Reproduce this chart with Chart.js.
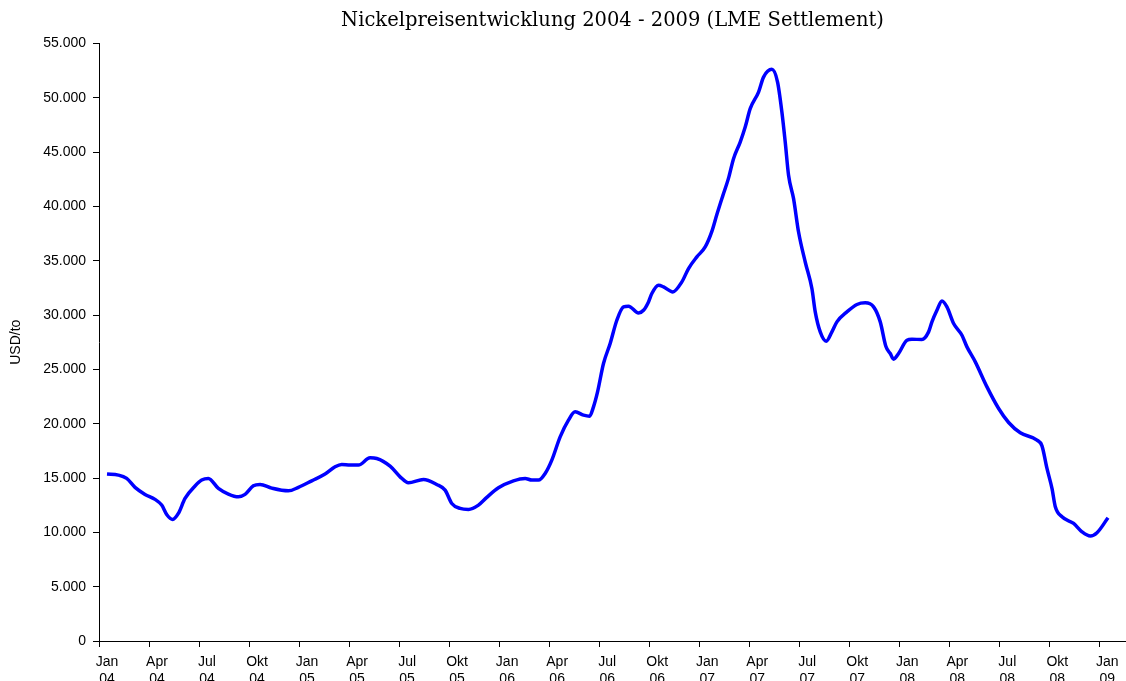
<!DOCTYPE html>
<html>
<head>
<meta charset="utf-8">
<script src="https://cdn.jsdelivr.net/npm/chart.js@4"></script>
<style>
    html, body { margin: 0; padding: 0; overflow: hidden; background: #fff; }
    #wrap { width: 1126px; height: 700px; }
</style>
</head>
<body>
<div id="wrap"><canvas id="nickel-chart"></canvas></div>
<script>
// Months since start of Jan 2004 (fractional) and LME settlement price in USD/t
const months = [0.48, 1.16, 1.66, 2.16, 2.76, 3.36, 3.76, 4.06, 4.42, 4.76,
    5.16, 5.76, 6.16, 6.56, 7.16, 7.76, 8.36, 8.76, 9.26, 9.66,
    10.36, 11.36, 11.96, 12.76, 13.56, 14.16, 14.56, 15.06, 15.56, 16.26,
    16.66, 17.46, 18.06, 18.56, 19.46, 20.26, 20.76, 21.16, 21.66, 22.16,
    22.76, 23.26, 23.96, 24.86, 25.56, 25.96, 26.36, 26.76, 27.16, 27.66,
    28.16, 28.56, 29.06, 29.42, 29.66, 29.9, 30.26, 30.66, 31.06, 31.46,
    31.76, 32.36, 32.66, 32.96, 33.16, 33.56, 33.86, 34.42, 34.96, 35.36,
    35.86, 36.36, 36.76, 37.06, 37.4, 37.76, 38.06, 38.46, 38.76, 39.06,
    39.56, 39.86, 40.36, 40.7, 40.96, 41.16, 41.36, 41.66, 41.96, 42.36,
    42.76, 42.96, 43.26, 43.62, 43.96, 44.26, 44.86, 45.46, 45.96, 46.46,
    46.86, 47.2, 47.46, 47.66, 47.96, 48.46, 48.76, 49.36, 49.76, 49.96,
    50.26, 50.56, 50.86, 51.26, 51.76, 52.06, 52.56, 53.26, 53.96, 54.56,
    55.26, 56.26, 56.56, 56.86, 57.16, 57.36, 57.76, 58.46, 58.96, 59.46,
    59.86, 60.52];

const prices = [15360, 15270, 14960, 14140, 13490, 13030, 12510, 11650, 11190, 11740,
    13120, 14260, 14810, 14960, 14040, 13520, 13270, 13490, 14280, 14410,
    14070, 13820, 14140, 14740, 15360, 16030, 16250, 16190, 16190, 16860,
    16800, 16090, 15110, 14560, 14870, 14410, 13890, 12660, 12200, 12110,
    12510, 13220, 14100, 14740, 14960, 14810, 14810, 15420, 16650, 18790,
    20330, 21090, 20790, 20690, 21550, 22900, 25540, 27380, 29520, 30750,
    30810, 30190, 30440, 31210, 31980, 32740, 32590, 32130, 33050, 34280,
    35350, 36270, 37700, 39250, 40900, 42600, 44390, 45920, 47300, 48990,
    50520, 51900, 52610, 51440, 48680, 45920, 42860, 40710, 37640, 34880,
    32440, 30290, 28450, 27590, 28450, 29370, 30290, 30970, 31120, 30750,
    29370, 27100, 26460, 25940, 26460, 27680, 27770, 27750, 28450, 29370,
    30440, 31300, 30750, 29220, 28140, 27070, 25690, 23390, 21400, 20110,
    19160, 18490, 17960, 15880, 14040, 12350, 11430, 10820, 10050, 9660,
    9960, 11340];

// Quarter tick labels
const quarterNames = ['Jan', 'Apr', 'Jul', 'Okt'];
const yearLabels = ['04', '05', '06', '07', '08', '09'];
const tickMonths = [];
for (let m = 0; m <= 60; m += 3) tickMonths.push(m);

const points = months.map((m, i) => ({ x: m, y: prices[i] }));

function formatThousands(v) {
    return String(v).replace(/\B(?=(\d{3})+(?!\d))/g, '.');
}

const axisFont = { family: 'Liberation Sans, Arial, sans-serif', size: 14 };

new Chart(document.getElementById('nickel-chart'), {
    type: 'line',
    data: {
        datasets: [{
            data: points,
            borderColor: '#0000ff',
            borderWidth: 3.5,
            pointRadius: 0,
            fill: false,
            cubicInterpolationMode: 'monotone'
        }]
    },
    options: {
        responsive: true,
        maintainAspectRatio: false,
        animation: false,
        layout: { padding: 0 },
        plugins: {
            legend: { display: false },
            tooltip: { enabled: false },
            title: {
                display: true,
                fullSize: false,
                text: 'Nickelpreisentwicklung 2004 - 2009 (LME Settlement)',
                color: '#000',
                font: { family: 'DejaVu Serif, serif', size: 19.5, weight: 'normal' },
                padding: { top: 9, bottom: 11 }
            }
        },
        scales: {
            x: {
                type: 'linear',
                min: 0,
                max: 61.6,
                afterBuildTicks: (axis) => {
                    axis.ticks = tickMonths.map(v => ({ value: v }));
                },
                afterFit: (axis) => { axis.height = 59; },
                border: { color: '#000', width: 1 },
                grid: { drawOnChartArea: false, drawTicks: true, tickLength: 6, color: '#000' },
                ticks: {
                    color: '#000',
                    font: axisFont,
                    padding: 7,
                    labelOffset: 8,
                    maxRotation: 0,
                    autoSkip: false,
                    callback: (value) => {
                        const q = Math.round(value / 3);
                        return [quarterNames[q % 4], yearLabels[Math.floor(q / 4)]];
                    }
                }
            },
            y: {
                min: 0,
                max: 55000,
                afterFit: (axis) => { axis.width = 99; },
                border: { color: '#000', width: 1 },
                grid: { drawOnChartArea: false, drawTicks: true, tickLength: 6, color: '#000' },
                ticks: {
                    stepSize: 5000,
                    color: '#000',
                    font: axisFont,
                    padding: 7,
                    callback: (value) => formatThousands(value)
                },
                title: {
                    display: true,
                    text: 'USD/to',
                    color: '#000',
                    font: axisFont,
                    padding: { top: 8, bottom: 0 }
                }
            }
        }
    }
});
</script>
</body>
</html>
